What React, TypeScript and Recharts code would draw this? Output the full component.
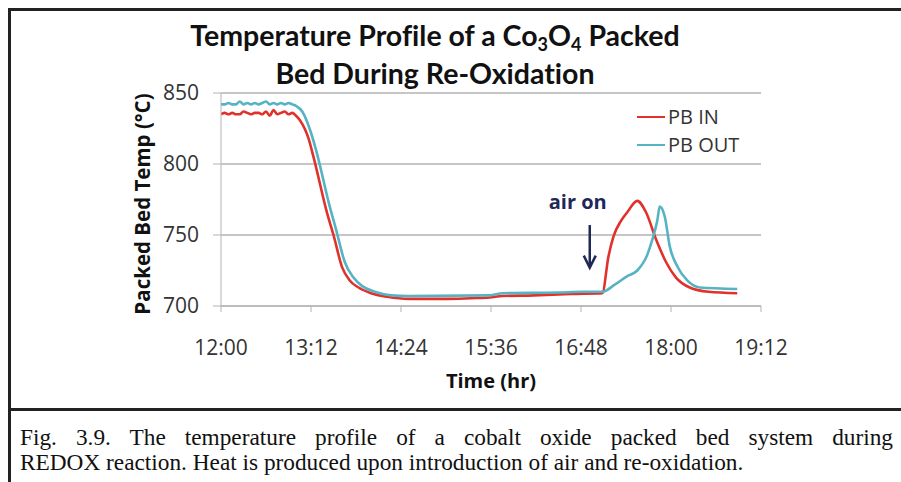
import React from 'react';
import { LineChart, Line, XAxis, YAxis, CartesianGrid, Legend, ReferenceLine } from 'recharts';

// minutes after 12:00
const inMinutes = [0, 3, 6, 9, 12, 15, 18, 21, 24, 27, 30, 33, 36, 39, 42, 45, 48, 51, 54, 57,
  60, 63, 70, 74, 85, 90, 97, 103, 110, 120, 133, 150, 180, 200, 215, 225, 250, 280, 305,
  310, 314, 320, 325, 333, 340, 348, 356, 364, 375, 390, 413];
const inTemps = [835, 836, 835, 836, 835, 835, 837, 836, 835, 836, 836, 835, 837, 834, 838, 835, 836, 837, 835, 836,
  834, 831, 818, 805, 765, 750, 727, 718, 713, 709, 706.5, 705, 705, 705.5, 706, 707, 707.5, 708.5, 709,
  735, 749, 760, 766, 774, 766, 747, 731, 720, 713, 710, 709];

const outMinutes = [0, 3, 6, 9, 12, 15, 18, 21, 24, 27, 30, 33, 36, 39, 42, 45, 48, 51, 54, 57,
  60, 65, 72, 76, 87, 92, 99, 106, 113, 123, 136, 150, 215, 225, 270, 290, 305,
  315, 325, 333, 341, 345, 349, 351, 355, 359, 365, 373, 383, 413];
const outTemps = [842, 842, 843, 842, 842, 844, 842, 843, 842, 843, 842, 843, 844, 842, 843, 842, 843, 842, 843, 842,
  841, 837, 822, 810, 770, 754, 731, 720, 714, 710, 707.5, 707, 707.5, 709, 709.5, 710, 710,
  715, 721, 725, 736, 746.5, 760, 770, 763, 742, 728, 718, 713, 712];

const xTicks = [0, 72, 144, 216, 288, 360, 432];
const yTicks = [700, 750, 800, 850];
const seriesNames = ['PB IN', 'PB OUT'];
const airOnMinute = 295;
const airOnTop = 757;
const airOnBottom = 727;

const inData = inMinutes.map((m, i) => ({ t: m, v: inTemps[i] }));
const outData = outMinutes.map((m, i) => ({ t: m, v: outTemps[i] }));

const RED = '#e1312b';
const BLUE = '#55b3c4';
const GRID = '#b3b3b3';
const FONT = '"Open Sans", sans-serif';

const fmt = (m: number) => {
  const tot = 12 * 60 + m;
  const h = Math.floor(tot / 60);
  const mm = tot % 60;
  return `${h}:${mm < 10 ? '0' : ''}${mm}`;
};

const LegendContent = () => (
  <div style={{ width: 140, fontFamily: FONT, fontSize: 20, color: '#333', lineHeight: '28px', whiteSpace: 'nowrap' }}>
    {seriesNames.map((n, i) => (
      <div key={n} style={{ display: 'flex', alignItems: 'center' }}>
        <span style={{ display: 'inline-block', flexShrink: 0, width: 28, height: 2.5, background: i === 0 ? RED : BLUE, marginRight: 3 }} />
        <span>{n}</span>
      </div>
    ))}
  </div>
);

const ArrowShape = (props: any) => {
  const { x1, y1, x2, y2 } = props;
  return (
    <g>
      <text x={x1 - 12} y={y1 - 16} textAnchor="middle" fontFamily={FONT} fontWeight={700} fontSize={20} fill="#1f2858">air on</text>
      <line x1={x1} y1={y1} x2={x2} y2={y2 - 2} stroke="#1f2858" strokeWidth={2.5} />
      <path d={`M${x2 - 6},${y2 - 12} L${x2},${y2} L${x2 + 6},${y2 - 12}`} fill="none" stroke="#1f2858" strokeWidth={2.5} />
    </g>
  );
};

export default function App() {
  return (
    <div style={{ position: 'fixed', left: 0, top: 0, width: 901, height: 482, background: '#fff', overflow: 'hidden' }}>
      {/* figure box borders */}
      <div style={{ position: 'absolute', left: 8, top: 8, width: 893, height: 2.5, background: '#222' }} />
      <div style={{ position: 'absolute', left: 8, top: 8, width: 2.5, height: 474, background: '#222' }} />
      <div style={{ position: 'absolute', left: 8, top: 408, width: 893, height: 2.5, background: '#222' }} />

      <div style={{ position: 'absolute', left: 0, top: 0 }}>
        <LineChart width={901} height={410} margin={{ top: 93, right: 140, bottom: 64, left: 161 }}>
          <CartesianGrid horizontal vertical={false} stroke={GRID} strokeWidth={1.3} />
          <XAxis type="number" dataKey="t" domain={[0, 432]} ticks={xTicks} tickFormatter={fmt}
            height={40} stroke={GRID} tickSize={6} tickMargin={28}
            tick={{ fill: '#333', fontSize: 21, fontFamily: FONT }} allowDataOverflow />
          <YAxis type="number" domain={[700, 850]} ticks={yTicks} width={60} stroke={GRID}
            tickSize={8} tickMargin={14} tick={{ fill: '#333', fontSize: 21, fontFamily: FONT }} />
          <Line type="monotone" data={inData} dataKey="v" name={seriesNames[0]} stroke={RED} strokeWidth={2.6} dot={false} isAnimationActive={false} />
          <Line type="monotone" data={outData} dataKey="v" name={seriesNames[1]} stroke={BLUE} strokeWidth={2.6} dot={false} isAnimationActive={false} />
          <ReferenceLine segment={[{ x: airOnMinute, y: airOnTop }, { x: airOnMinute, y: airOnBottom }]} shape={ArrowShape} />
          <Legend content={<LegendContent />} layout="vertical" align="right" verticalAlign="top"
            wrapperStyle={{ position: 'absolute', left: 637, top: 103, width: 0, height: 0, overflow: 'visible' }} />
        </LineChart>
      </div>

      {/* title */}
      <div style={{ position: 'absolute', left: 135, width: 600, top: 16, textAlign: 'center', fontFamily: 'Lato, sans-serif', fontWeight: 700, fontSize: 28.5, lineHeight: '38px', color: '#111', fontVariantLigatures: 'none' }}>
        <div>Temperature Profile of a Co<sub style={{ fontSize: 18, verticalAlign: -5, lineHeight: 0 }}>3</sub>O<sub style={{ fontSize: 18, verticalAlign: -5, lineHeight: 0 }}>4</sub> Packed</div>
        <div>Bed During Re-Oxidation</div>
      </div>

      {/* y axis title */}
      <div style={{ position: 'absolute', left: 142, top: 204, transform: 'translate(-50%, -50%) rotate(-90deg)', whiteSpace: 'nowrap', fontFamily: FONT, fontWeight: 700, fontSize: 20.5, color: '#111' }}>
        Packed Bed Temp (°C)
      </div>
      {/* x axis title */}
      <div style={{ position: 'absolute', left: 491, top: 380, transform: 'translate(-50%, -50%)', whiteSpace: 'nowrap', fontFamily: FONT, fontWeight: 700, fontSize: 20, color: '#111' }}>
        Time (hr)
      </div>

      {/* caption */}
      <div style={{ position: 'absolute', left: 20, top: 425, width: 873, fontFamily: '"Liberation Serif", serif', fontSize: 23.3, lineHeight: '25px', color: '#111' }}>
        <div style={{ textAlign: 'justify', textAlignLast: 'justify' }}>Fig. 3.9. The temperature profile of a cobalt oxide packed bed system during</div>
        <div>REDOX reaction. Heat is produced upon introduction of air and re-oxidation.</div>
      </div>
    </div>
  );
}
